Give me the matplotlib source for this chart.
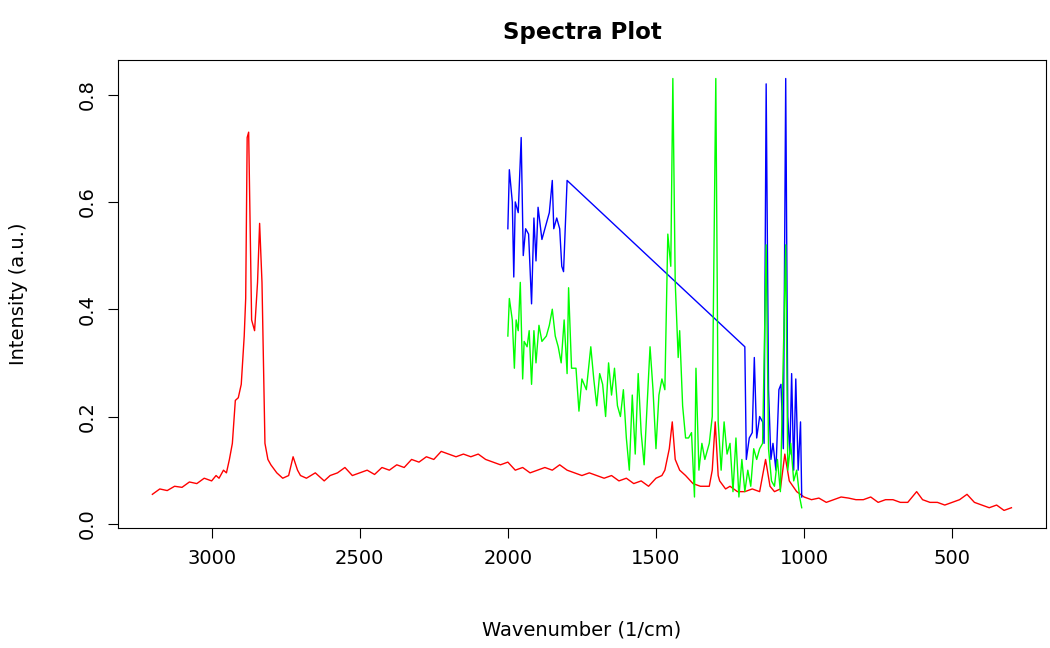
import matplotlib
matplotlib.use("Agg")
import matplotlib.pyplot as plt

red_x = [3200,3175,3150,3125,3100,3075,3050,3025,3000,2985,2975,2960,2950,2940,2930,2920,2910,2900,2890,2885,2880,2875,2865,2855,2845,2838,2830,2820,2810,2800,2780,2760,2740,2725,2710,2700,2680,2650,2620,2600,2575,2550,2525,2500,2475,2450,2425,2400,2375,2350,2325,2300,2275,2250,2225,2200,2175,2150,2125,2100,2075,2050,2025,2000,1975,1950,1925,1900,1875,1850,1825,1800,1775,1750,1725,1700,1675,1650,1625,1600,1575,1550,1525,1500,1480,1470,1455,1445,1435,1420,1400,1375,1350,1320,1310,1300,1290,1285,1265,1250,1225,1200,1175,1150,1130,1115,1100,1080,1065,1050,1025,1000,975,950,925,900,875,850,825,800,775,750,725,700,675,650,635,620,600,575,550,525,500,475,450,425,400,375,350,325,300]
red_y = [0.055,0.065,0.062,0.07,0.068,0.078,0.075,0.085,0.08,0.09,0.085,0.1,0.095,0.12,0.15,0.23,0.235,0.26,0.35,0.42,0.72,0.73,0.38,0.36,0.45,0.56,0.45,0.15,0.12,0.11,0.095,0.085,0.09,0.125,0.1,0.09,0.085,0.095,0.08,0.09,0.095,0.105,0.09,0.095,0.1,0.092,0.105,0.1,0.11,0.105,0.12,0.115,0.125,0.12,0.135,0.13,0.125,0.13,0.125,0.13,0.12,0.115,0.11,0.115,0.1,0.105,0.095,0.1,0.105,0.1,0.11,0.1,0.095,0.09,0.095,0.09,0.085,0.09,0.08,0.085,0.075,0.08,0.07,0.085,0.09,0.1,0.14,0.19,0.12,0.1,0.09,0.075,0.07,0.07,0.1,0.19,0.09,0.08,0.065,0.07,0.06,0.06,0.065,0.06,0.12,0.07,0.06,0.065,0.13,0.08,0.06,0.05,0.045,0.048,0.04,0.045,0.05,0.048,0.045,0.045,0.05,0.04,0.045,0.045,0.04,0.04,0.05,0.06,0.045,0.04,0.04,0.035,0.04,0.045,0.055,0.04,0.035,0.03,0.035,0.025,0.03]

blue_x = [2000,1995,1985,1980,1975,1965,1955,1948,1940,1930,1920,1912,1905,1898,1885,1870,1860,1850,1845,1835,1825,1818,1812,1800,1200,1195,1185,1175,1168,1160,1150,1140,1135,1128,1120,1112,1105,1095,1085,1078,1070,1062,1055,1048,1042,1035,1028,1020,1012,1008]
blue_y = [0.55,0.66,0.6,0.46,0.6,0.58,0.72,0.5,0.55,0.54,0.41,0.57,0.49,0.59,0.53,0.56,0.58,0.64,0.55,0.57,0.55,0.48,0.47,0.64,0.33,0.12,0.16,0.17,0.31,0.16,0.2,0.19,0.15,0.82,0.25,0.12,0.15,0.1,0.25,0.26,0.14,0.83,0.2,0.13,0.28,0.1,0.27,0.1,0.19,0.05]

green_x = [2000,1995,1985,1978,1972,1965,1958,1950,1945,1935,1928,1920,1912,1905,1895,1885,1870,1860,1850,1840,1830,1820,1810,1800,1795,1785,1770,1760,1750,1735,1720,1710,1700,1690,1680,1670,1660,1650,1640,1630,1620,1610,1600,1590,1580,1570,1560,1550,1540,1530,1520,1510,1500,1490,1480,1470,1460,1450,1443,1435,1425,1420,1410,1400,1390,1380,1370,1365,1355,1345,1335,1320,1310,1298,1290,1280,1270,1260,1250,1240,1230,1220,1210,1200,1190,1180,1170,1160,1150,1140,1128,1120,1110,1100,1090,1080,1062,1055,1045,1035,1025,1015,1008]
green_y = [0.35,0.42,0.38,0.29,0.38,0.36,0.45,0.27,0.34,0.33,0.36,0.26,0.36,0.3,0.37,0.34,0.35,0.37,0.4,0.35,0.33,0.3,0.38,0.28,0.44,0.29,0.29,0.21,0.27,0.25,0.33,0.27,0.22,0.28,0.26,0.2,0.3,0.24,0.29,0.22,0.2,0.25,0.16,0.1,0.24,0.13,0.28,0.17,0.11,0.22,0.33,0.25,0.14,0.24,0.27,0.25,0.54,0.48,0.83,0.45,0.31,0.36,0.22,0.16,0.16,0.17,0.05,0.29,0.1,0.15,0.12,0.15,0.2,0.83,0.19,0.1,0.19,0.13,0.15,0.06,0.16,0.05,0.12,0.06,0.1,0.07,0.14,0.12,0.14,0.15,0.52,0.14,0.08,0.07,0.12,0.06,0.52,0.1,0.15,0.08,0.1,0.05,0.03]

x_ticks = [3000, 2500, 2000, 1500, 1000, 500]
y_ticks = [0.0, 0.2, 0.4, 0.6, 0.8]

plt.rcParams['font.family'] = ['DejaVu Sans']
fig = plt.figure(figsize=(10.5, 6.48), dpi=100)
ax = fig.add_axes([0.1124, 0.185, 0.8836, 0.722])
ax.plot(red_x, red_y, color='red', lw=1)
ax.plot(blue_x, blue_y, color='blue', lw=1)
ax.plot(green_x, green_y, color='#00ff00', lw=1)
ax.set_xlim(3316, 184)
ax.set_ylim(-0.008, 0.864)
ax.set_xticks(x_ticks)
ax.set_xticklabels([str(t) for t in x_ticks])
ax.set_yticks(y_ticks)
ax.set_yticklabels(["0.0", "0.2", "0.4", "0.6", "0.8"], rotation=90, va='center')
ax.tick_params(labelsize=14, length=7, pad=8)
ax.set_xlabel("Wavenumber (1/cm)", fontsize=14, labelpad=38)
ax.set_ylabel("Intensity (a.u.)", fontsize=14, labelpad=36)
ax.set_title("Spectra Plot", fontsize=16.5, fontweight='bold', pad=15)
fig.savefig("out.png", dpi=100)
